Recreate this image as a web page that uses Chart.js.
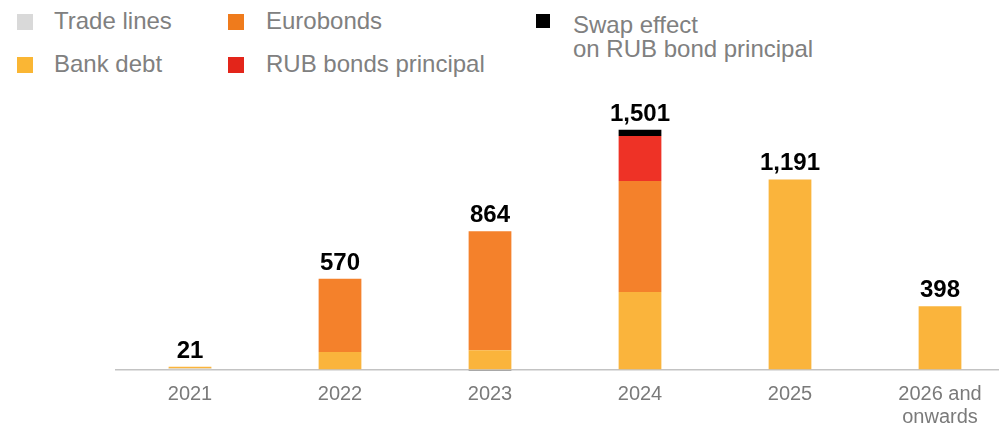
<!DOCTYPE html>
<html>
<head>
<meta charset="utf-8">
<script src="https://cdn.jsdelivr.net/npm/chart.js@4"></script>
<style>
  html, body { margin: 0; padding: 0; background: #fff; }
  body { width: 999px; height: 429px; overflow: hidden; position: relative; font-family: "Liberation Sans", Arial, sans-serif; }
  #wrap { position: absolute; left: 0; top: 0; width: 1016px; height: 429px; }
  .sw { position: absolute; width: 16px; height: 16px; }
  .lt { position: absolute; font-size: 24px; line-height: 24px; color: #808080; white-space: nowrap; }
</style>
</head>
<body>
<div class="sw" style="left:17px;top:14px;background:#d9d9d9"></div>
<div class="lt" style="left:54px;top:9px">Trade lines</div>
<div class="sw" style="left:17px;top:57px;background:#fab634"></div>
<div class="lt" style="left:54px;top:51.5px">Bank debt</div>
<div class="sw" style="left:228px;top:14px;background:#ef7b1c"></div>
<div class="lt" style="left:266px;top:9px">Eurobonds</div>
<div class="sw" style="left:228px;top:57px;background:#e3251a"></div>
<div class="lt" style="left:266px;top:51.5px">RUB bonds principal</div>
<div class="sw" style="left:536px;top:14px;width:14px;height:14px;background:#000"></div>
<div class="lt" style="left:573px;top:12.5px">Swap effect<br>on RUB bond principal</div>

<div id="wrap"><canvas id="chart"></canvas></div>

<script>
// ======= DATA =======
const years = ["2021", "2022", "2023", "2024", "2025", ["2026 and", "onwards"]];
const tradeLines = [10, 0, 0, 0, 0, 0];
const bankDebt = [11, 112, 124, 487, 1191, 398];
const eurobonds = [0, 458, 743, 694, 0, 0];
const rubBonds = [0, 0, 0, 281, 0, 0];
const swapEffect = [0, 0, -3, 39, 0, 0];
const totals = [21, 570, 864, 1501, 1191, 398];

// ======= TOTAL LABELS =======
const totalLabels = {
  id: "totalLabels",
  afterDatasetsDraw(chart) {
    const ctx = chart.ctx;
    const y = chart.scales.y;
    const meta = chart.getDatasetMeta(0);
    ctx.save();
    ctx.font = "bold 24px 'Liberation Sans', Arial, sans-serif";
    ctx.fillStyle = "#000";
    ctx.textAlign = "center";
    ctx.textBaseline = "alphabetic";
    totals.forEach((t, i) => {
      let top = 0;
      chart.data.datasets.forEach(ds => { if (ds.data[i] > 0) top += ds.data[i]; });
      const x = meta.data[i].x;
      ctx.fillText(t.toLocaleString("en-US"), x, y.getPixelForValue(top) - 9);
    });
    ctx.restore();
  }
};

const ctx = document.getElementById("chart");
new Chart(ctx, {
  type: "bar",
  data: {
    labels: years,
    datasets: [
      { label: "Trade lines", data: tradeLines, backgroundColor: "#d9d9d9" },
      { label: "Bank debt", data: bankDebt, backgroundColor: "#fab43c" },
      { label: "Eurobonds", data: eurobonds, backgroundColor: "#f4812b" },
      { label: "RUB bonds principal", data: rubBonds, backgroundColor: "#ee3226" },
      { label: "Swap effect on RUB bond principal", data: swapEffect, backgroundColor: "#000" }
    ]
  },
  options: {
    responsive: true,
    maintainAspectRatio: false,
    animation: false,
    layout: { padding: { left: 115, right: 1, top: 110, bottom: 0 } },
    datasets: { bar: { barPercentage: 0.285, categoryPercentage: 1 } },
    plugins: { legend: { display: false }, tooltip: { enabled: false } },
    scales: {
      x: {
        stacked: true,
        afterFit: s => { s.height = 58; },
        grid: { display: false },
        border: { display: false },
        ticks: {
          color: "#7a7a7a",
          padding: 4,
          maxRotation: 0,
          autoSkip: false,
          font: { family: "'Liberation Sans', Arial, sans-serif", size: 20, lineHeight: 1.15 }
        }
      },
      y: {
        stacked: true,
        min: -6,
        max: 1625,
        afterFit: s => { s.width = 0; },
        ticks: { display: false, stepSize: 6 },
        border: { display: false },
        grid: {
          drawTicks: false,
          lineWidth: 1.5,
          color: c => (c.tick && c.tick.value === 0 ? "#c3c3c3" : "rgba(0,0,0,0)")
        }
      }
    }
  },
  plugins: [totalLabels]
});
</script>
</body>
</html>
